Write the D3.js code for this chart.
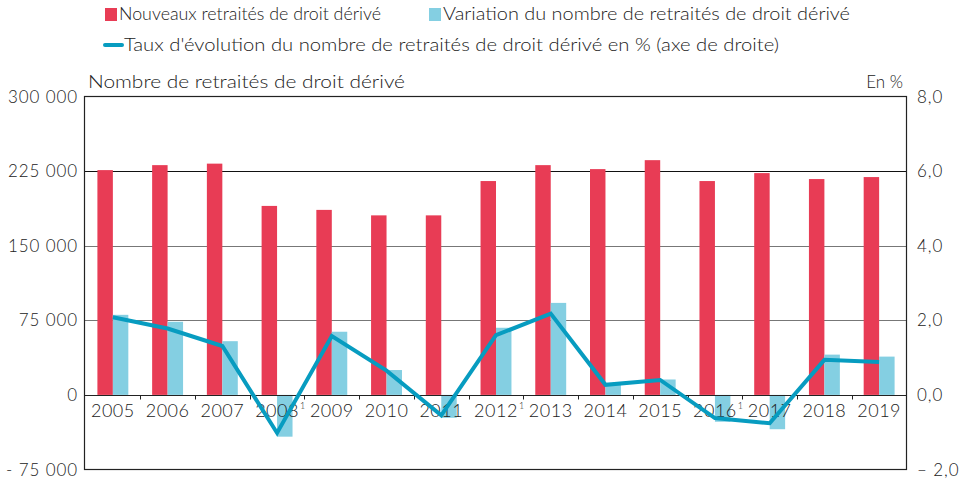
<!DOCTYPE html>
<html><head><meta charset="utf-8">
<script src="https://cdn.jsdelivr.net/npm/d3@7"></script>
<style>body{margin:0;background:#fff}svg{display:block}</style>
</head><body>
<svg id="c" width="965" height="481"></svg>
<script>
const years = ["2005","2006","2007","2008","2009","2010","2011","2012","2013","2014","2015","2016","2017","2018","2019"];
const notes = ["","","","1","","","","1","","","","1","","",""];
const nouveaux = [226000,231000,232500,190000,186000,180500,180500,215000,231000,227000,236000,215000,223000,217000,219000];
const variation = [80500,73500,54000,-42000,63500,25000,-23000,67500,92500,12000,15500,-27000,-34500,40500,38500];
const taux = [2.08,1.78,1.31,-1.02,1.58,0.65,-0.55,1.60,2.18,0.27,0.40,-0.62,-0.76,0.94,0.88];
const leftTicks = [300000,225000,150000,75000,0,-75000];
const leftTickLabels = ["300 000","225 000","150 000","75 000","0","- 75 000"];
const rightTicks = [8,6,4,2,0,-2];
const rightTickLabels = ["8,0","6,0","4,0","2,0","0,0","– 2,0"];
const seriesNames = ["Nouveaux retraités de droit dérivé","Variation du nombre de retraités de droit dérivé","Taux d'évolution du nombre de retraités de droit dérivé en % (axe de droite)"];
const colors = {red:"#e83c55", blue:"#84cfe2", line:"#079cc0"};

const svg = d3.select("#c");
const L=84.5, R=906.5, T=96.5, B=469.5;
const yL = d3.scaleLinear().domain([-75000,300000]).range([B,T]);
const yR = d3.scaleLinear().domain([-2,8]).range([B,T]);
const x = d3.scaleBand().domain(years).range([L+1,R]).padding(0);
const x1 = d3.scaleBand().domain(["n","v"]).range([0,x.bandwidth()]).paddingInner(0).paddingOuter(0.77);
const font = "Lato, 'Open Sans', sans-serif";
const ink = "#222";

// gridlines
svg.append("g").selectAll("line").data([225000,150000,75000]).join("line")
  .attr("x1",L).attr("x2",R).attr("y1",d=>Math.round(yL(d))+0.5).attr("y2",d=>Math.round(yL(d))+0.5)
  .attr("stroke",(d)=>d===225000?"#111":"#777").attr("stroke-width",1);

// bars
const g = svg.append("g");
years.forEach((yr,i)=>{
  g.append("rect").attr("x",x(yr)+x1("n")).attr("width",x1.bandwidth())
    .attr("y",yL(Math.max(0,nouveaux[i]))).attr("height",Math.abs(yL(nouveaux[i])-yL(0)))
    .attr("fill",colors.red);
  g.append("rect").attr("x",x(yr)+x1("v")).attr("width",x1.bandwidth())
    .attr("y",yL(Math.max(0,variation[i]))).attr("height",Math.abs(yL(variation[i])-yL(0)))
    .attr("fill",colors.blue);
});

// zero line and frame
const y0 = Math.round(yL(0))+0.5;
svg.append("line").attr("x1",L).attr("x2",R).attr("y1",y0).attr("y2",y0).attr("stroke","#222").attr("stroke-width",1.2);
svg.append("rect").attr("x",L).attr("y",T).attr("width",R-L).attr("height",B-T).attr("fill","none").attr("stroke","#222").attr("stroke-width",1.2);
// category ticks
svg.append("g").selectAll("line").data(years.slice(1)).join("line")
  .attr("x1",d=>Math.round(x(d))+0.5).attr("x2",d=>Math.round(x(d))+0.5).attr("y1",y0).attr("y2",y0+4)
  .attr("stroke","#222");

// x labels
const xl = svg.append("g").attr("font-family",font).attr("font-weight",300).attr("fill",ink);
years.forEach((yr,i)=>{
  const cx = x(yr)+x.bandwidth()/2;
  const t = xl.append("text").attr("x",cx).attr("y",417).attr("text-anchor","middle").attr("font-size",18).attr("letter-spacing",0.5).text(yr);
  if(notes[i]){
    const w = t.node().getComputedTextLength();
    xl.append("text").attr("x",cx+w/2+1).attr("y",409).attr("font-size",9).text(notes[i]);
  }
});

// line
svg.append("path").datum(taux)
  .attr("d",d3.line().x((d,i)=>x(years[i])+x.bandwidth()/2).y(d=>yR(d)))
  .attr("fill","none").attr("stroke",colors.line).attr("stroke-width",4).attr("stroke-linejoin","miter");

// y labels
svg.append("g").attr("font-family",font).attr("font-weight",300).attr("font-size",17).attr("letter-spacing",0.9).attr("fill",ink)
  .selectAll("text").data(leftTicks).join("text")
  .attr("x",78).attr("y",d=>yL(d)+6).attr("text-anchor","end").text((d,i)=>leftTickLabels[i]);
svg.append("g").attr("font-family",font).attr("font-weight",300).attr("font-size",17).attr("letter-spacing",0.9).attr("fill",ink)
  .selectAll("text").data(rightTicks).join("text")
  .attr("x",917).attr("y",d=>yR(d)+6).text((d,i)=>rightTickLabels[i]);

// axis titles
svg.append("text").attr("x",88).attr("y",88).attr("font-family",font).attr("font-weight",300).attr("font-size",17).attr("fill",ink)
  .attr("textLength",317).attr("lengthAdjust","spacingAndGlyphs").text("Nombre de retraités de droit dérivé");
svg.append("text").attr("x",903).attr("y",88).attr("text-anchor","end").attr("font-family",font).attr("font-weight",300).attr("font-size",17).attr("fill",ink)
  .text("En %");

// legend
const lg = svg.append("g").attr("font-family",font).attr("font-weight",300).attr("font-size",17).attr("fill",ink);
lg.append("rect").attr("x",105).attr("y",8).attr("width",12).attr("height",13).attr("fill",colors.red);
lg.append("text").attr("x",119).attr("y",20).attr("textLength",262).attr("lengthAdjust","spacingAndGlyphs").text(seriesNames[0]);
lg.append("rect").attr("x",429).attr("y",8).attr("width",12).attr("height",13).attr("fill",colors.blue);
lg.append("text").attr("x",443).attr("y",20).attr("textLength",407).attr("lengthAdjust","spacingAndGlyphs").text(seriesNames[1]);
lg.append("line").attr("x1",105).attr("x2",122).attr("y1",45).attr("y2",45).attr("stroke",colors.line).attr("stroke-width",4).attr("stroke-linecap","round");
lg.append("text").attr("x",124).attr("y",51).attr("textLength",655).attr("lengthAdjust","spacingAndGlyphs").text(seriesNames[2]);
</script>
</body></html>
